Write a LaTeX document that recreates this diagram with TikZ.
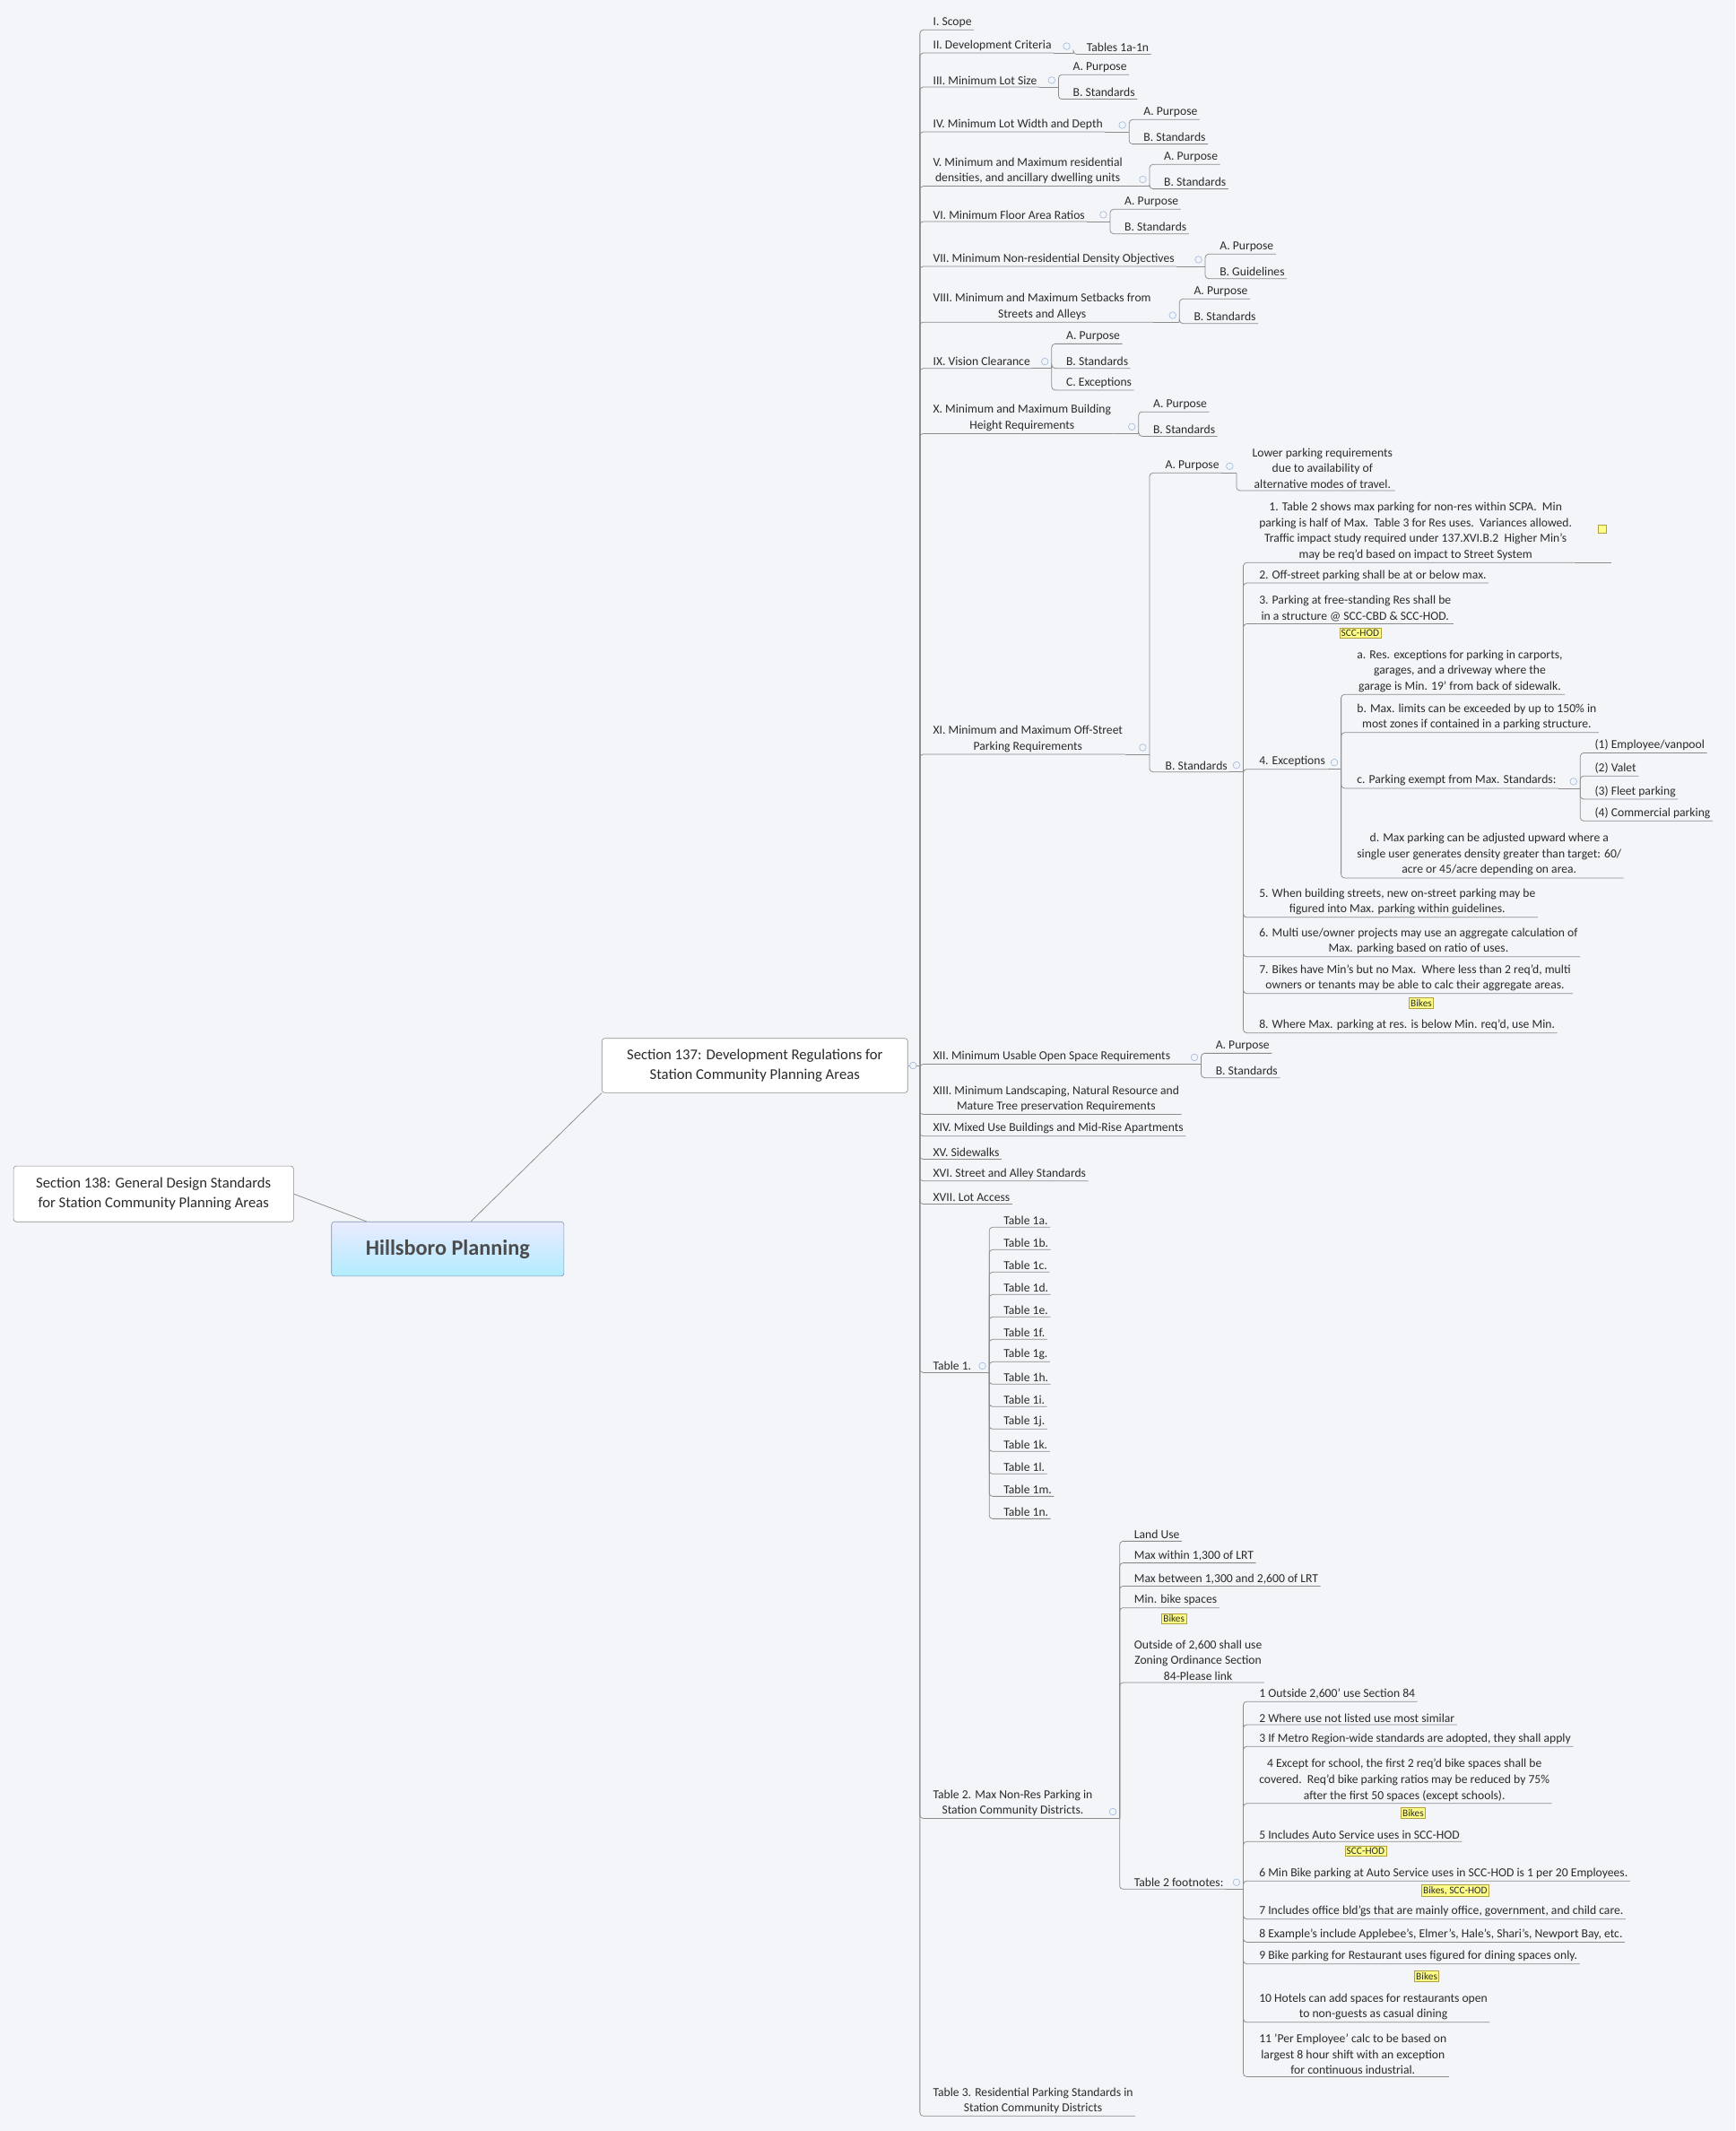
\documentclass[tikz,border=0pt]{standalone}
\usepackage{fontspec}
\setmainfont{Carlito}
\usetikzlibrary{calc}
\definecolor{bgc}{HTML}{F3F5F9}
\definecolor{linec}{HTML}{8C8C8C}
\definecolor{foldc}{HTML}{9BB8DD}
\definecolor{tagf}{HTML}{FFFF88}
\definecolor{tagb}{HTML}{B0A040}
\definecolor{txtc}{HTML}{2B2B2B}
\newcommand\kid[4]{\node[leaf] (#2) at (#3) {#4}; \draw[link] (#1) |- (#2.south east);}
\newcommand\hub[4]{\coordinate (#2) at (#3,#4); \draw[link] (#1.south east) -- (#2); \node[fold] at ($(#2)+(-5,-5)$) {};}
\begin{document}
\begin{tikzpicture}[x=1pt,y=-1pt]
\tikzstyle{leaf} = [anchor=south west, inner sep=1.5pt, align=center, text=txtc, font=\fontsize{9}{11.6}\selectfont]
\tikzstyle{link} = [draw=linec, line width=0.5pt, rounded corners=2.5pt]
\tikzstyle{fold} = [draw=foldc, fill=bgc, circle, inner sep=0pt, minimum size=5pt]
\tikzstyle{tag} = [draw=tagb, fill=tagf, inner sep=1.2pt, text=txtc, font=\fontsize{7.5}{8}\selectfont]
\tikzstyle{box} = [draw=linec, fill=white, rounded corners=2pt, align=center, text=txtc]
\fill[bgc] (0,0) rectangle (1277,1568);
\useasboundingbox (0,0) rectangle (1277,1568);

% central topics
\node(root)[box, draw=foldc!80!black, top color=blue!8, bottom color=blue!25!cyan!30, minimum width=171pt, minimum height=40pt, text=black!70, font=\fontsize{16}{18}\selectfont\bfseries] at (329.5,919) {Hillsboro Planning};
\node(s138)[box, minimum width=206pt, minimum height=41pt, font=\fontsize{11}{15}\selectfont] at (113,878.5) {Section 138: General Design Standards\\for Station Community Planning Areas};
\node(s137)[box, minimum width=225pt, minimum height=40pt, font=\fontsize{11}{15}\selectfont] at (555.5,784) {Section 137: Development Regulations for\\Station Community Planning Areas};
\draw[link] (root.north west)++(26,0) -- (s138.east);
\draw[link] (root.north)++(17,0) -- (s137.south west);
\coordinate (t) at (677,784);
\draw[link] (s137.east) -- (t);
\node[fold] at (672,784) {};

% sections
\kid{t}{sI}{685,22}{I. Scope}
\kid{t}{sII}{685,39}{II. Development Criteria}
\hub{sII}{h2}{790}{39}
\kid{h2}{tabs}{798,40}{Tables 1a-1n}
\kid{t}{sIII}{685,64}{III. Minimum Lot Size}
\hub{sIII}{h3}{779}{64}
\kid{h3}{pIII}{788,55}{A. Purpose}
\kid{h3}{stIII}{788,73}{B. Standards}
\kid{t}{sIV}{685,97}{IV. Minimum Lot Width and Depth}
\hub{sIV}{h4}{831}{97}
\kid{h4}{pIV}{840,88}{A. Purpose}
\kid{h4}{stIV}{840,106}{B. Standards}
\kid{t}{sV}{685,137}{V. Minimum and Maximum residential\\densities, and ancillary dwelling units}
\hub{sV}{h5}{846}{137}
\kid{h5}{pV}{855,121}{A. Purpose}
\kid{h5}{stV}{855,139}{B. Standards}
\kid{t}{sVI}{685,163}{VI. Minimum Floor Area Ratios}
\hub{sVI}{h6}{817}{163}
\kid{h6}{pVI}{826,154}{A. Purpose}
\kid{h6}{stVI}{826,172}{B. Standards}
\kid{t}{sVII}{685,196}{VII. Minimum Non-residential Density Objectives}
\hub{sVII}{h7}{887}{196}
\kid{h7}{pVII}{896,187}{A. Purpose}
\kid{h7}{gVII}{896,205}{B. Guidelines}
\kid{t}{sVIII}{685,237}{VIII. Minimum and Maximum Setbacks from\\Streets and Alleys}
\hub{sVIII}{h8}{868}{237}
\kid{h8}{pVIII}{877,220}{A. Purpose}
\kid{h8}{stVIII}{877,238}{B. Standards}
\kid{t}{sIX}{685,271}{IX. Vision Clearance}
\hub{sIX}{h9}{774}{271}
\kid{h9}{pIX}{783,253}{A. Purpose}
\kid{h9}{stIX}{783,271}{B. Standards}
\kid{h9}{eIX}{783,287}{C. Exceptions}
\kid{t}{sX}{685,319}{X. Minimum and Maximum Building\\Height Requirements}
\hub{sX}{h10}{838}{319}
\kid{h10}{pX}{847,303}{A. Purpose}
\kid{h10}{stX}{847,321}{B. Standards}

% XI parking
\kid{t}{sXI}{685,555}{XI. Minimum and Maximum Off-Street\\Parking Requirements}
\hub{sXI}{h11}{846}{555}
\kid{h11}{pXI}{856,348}{A. Purpose}
\hub{pXI}{hp}{910}{348}
\kid{hp}{lower}{920,361}{Lower parking requirements\\due to availability of\\alternative modes of travel.}
\kid{h11}{stXI}{856,568}{B. Standards}
\hub{stXI}{hs}{915}{568}
\kid{hs}{r1}{925,414}{1. Table 2 shows max parking for non-res within SCPA.\ \ Min\\parking is half of Max.\ \ Table 3 for Res uses.\ \ Variances allowed.\\Traffic impact study required under 137.XVI.B.2\ \ Higher Min's\\may be req'd based on impact to Street System}
\node(note)[draw=tagb, fill=tagf, minimum size=6pt, inner sep=0pt] at (1179,389) {};
\draw[link] (r1.south east) -- (1186,414);
\kid{hs}{r2}{925,429}{2. Off-street parking shall be at or below max.}
\kid{hs}{r3}{925,459}{3. Parking at free-standing Res shall be\\in a structure @ SCC-CBD \& SCC-HOD.}
\node(t3)[tag] at (1001,466) {SCC-HOD};
\kid{hs}{r4}{925,566}{4. Exceptions}
\hub{r4}{he}{987}{566}
\kid{he}{ea}{997,511}{a. Res. exceptions for parking in carports,\\garages, and a driveway where the\\garage is Min. 19' from back of sidewalk.}
\kid{he}{eb}{997,539}{b. Max. limits can be exceeded by up to 150\% in\\most zones if contained in a parking structure.}
\kid{he}{ec}{997,580}{c. Parking exempt from Max. Standards:}
\hub{ec}{hc}{1163}{580}
\kid{hc}{c1}{1172,554}{(1) Employee/vanpool}
\kid{hc}{c2}{1172,571}{(2) Valet}
\kid{hc}{c3}{1172,588}{(3) Fleet parking}
\kid{hc}{c4}{1172,604}{(4) Commercial parking}
\kid{he}{ed}{997,646}{d. Max parking can be adjusted upward where a\\single user generates density greater than target: 60/\\acre or 45/acre depending on area.}
\kid{hs}{r5}{925,675}{5. When building streets, new on-street parking may be\\figured into Max. parking within guidelines.}
\kid{hs}{r6}{925,704}{6. Multi use/owner projects may use an aggregate calculation of\\Max. parking based on ratio of uses.}
\kid{hs}{r7}{925,731}{7. Bikes have Min's but no Max.\ \ Where less than 2 req'd, multi\\owners or tenants may be able to calc their aggregate areas.}
\node(t7)[tag] at (1046,738) {Bikes};
\kid{hs}{r8}{925,760}{8. Where Max. parking at res. is below Min. req'd, use Min.}

% XII to XVII
\kid{t}{sXII}{685,783}{XII. Minimum Usable Open Space Requirements}
\hub{sXII}{h12}{884}{783}
\kid{h12}{pXII}{893,775}{A. Purpose}
\kid{h12}{stXII}{893,793}{B. Standards}
\kid{t}{sXIII}{685,820}{XIII. Minimum Landscaping, Natural Resource and\\Mature Tree preservation Requirements}
\kid{t}{sXIV}{685,836}{XIV. Mixed Use Buildings and Mid-Rise Apartments}
\kid{t}{sXV}{685,853}{XV. Sidewalks}
\kid{t}{sXVI}{685,869}{XVI. Street and Alley Standards}
\kid{t}{sXVII}{685,886}{XVII. Lot Access}

% Table 1
\kid{t}{tab1}{685,1010}{Table 1.}
\hub{tab1}{ht1}{728}{1010}
\foreach \l [count=\i from 0] in {a,b,c,d,e,f,g,h,i,j,k,l,m,n}
  \kid{ht1}{tab1\l}{737,903+16.5*\i}{Table 1\l.};

% Table 2
\kid{t}{tab2}{685,1338}{Table 2. Max Non-Res Parking in\\Station Community Districts.}
\hub{tab2}{ht2}{824}{1338}
\kid{ht2}{lu}{833,1134}{Land Use}
\kid{ht2}{mw}{833,1150}{Max within 1,300 of LRT}
\kid{ht2}{mb}{833,1167}{Max between 1,300 and 2,600 of LRT}
\kid{ht2}{mbs}{833,1183}{Min. bike spaces}
\node(tb)[tag] at (864,1191) {Bikes};
\kid{ht2}{out}{833,1238}{Outside of 2,600 shall use\\Zoning Ordinance Section\\84-Please link}
\kid{ht2}{fn}{833,1390}{Table 2 footnotes:}
\hub{fn}{hf}{915}{1390}
\kid{hf}{f1}{925,1252}{1 Outside 2,600' use Section 84}
\kid{hf}{f2}{925,1269}{2 Where use not listed use most similar}
\kid{hf}{f3}{925,1285}{3 If Metro Region-wide standards are adopted, they shall apply}
\kid{hf}{f4}{925,1327}{4 Except for school, the first 2 req'd bike spaces shall be\\covered.\ \ Req'd bike parking ratios may be reduced by 75\%\\after the first 50 spaces (except schools).}
\node(tf4)[tag] at (1040,1334) {Bikes};
\kid{hf}{f5}{925,1355}{5 Includes Auto Service uses in SCC-HOD}
\node(tf5)[tag] at (1005,1362) {SCC-HOD};
\kid{hf}{f6}{925,1384}{6 Min Bike parking at Auto Service uses in SCC-HOD is 1 per 20 Employees.}
\node(tf6)[tag] at (1071,1391) {Bikes, SCC-HOD};
\kid{hf}{f7}{925,1412}{7 Includes office bld'gs that are mainly office, government, and child care.}
\kid{hf}{f8}{925,1429}{8 Example's include Applebee's, Elmer's, Hale's, Shari's, Newport Bay, etc.}
\kid{hf}{f9}{925,1445}{9 Bike parking for Restaurant uses figured for dining spaces only.}
\node(tf9)[tag] at (1050,1454) {Bikes};
\kid{hf}{f10}{925,1488}{10 Hotels can add spaces for restaurants open\\to non-guests as casual dining}
\kid{hf}{f11}{925,1528}{11 'Per Employee' calc to be based on\\largest 8 hour shift with an exception\\for continuous industrial.}

% Table 3
\kid{t}{tab3}{685,1557}{Table 3. Residential Parking Standards in\\Station Community Districts}
\end{tikzpicture}
\end{document}
